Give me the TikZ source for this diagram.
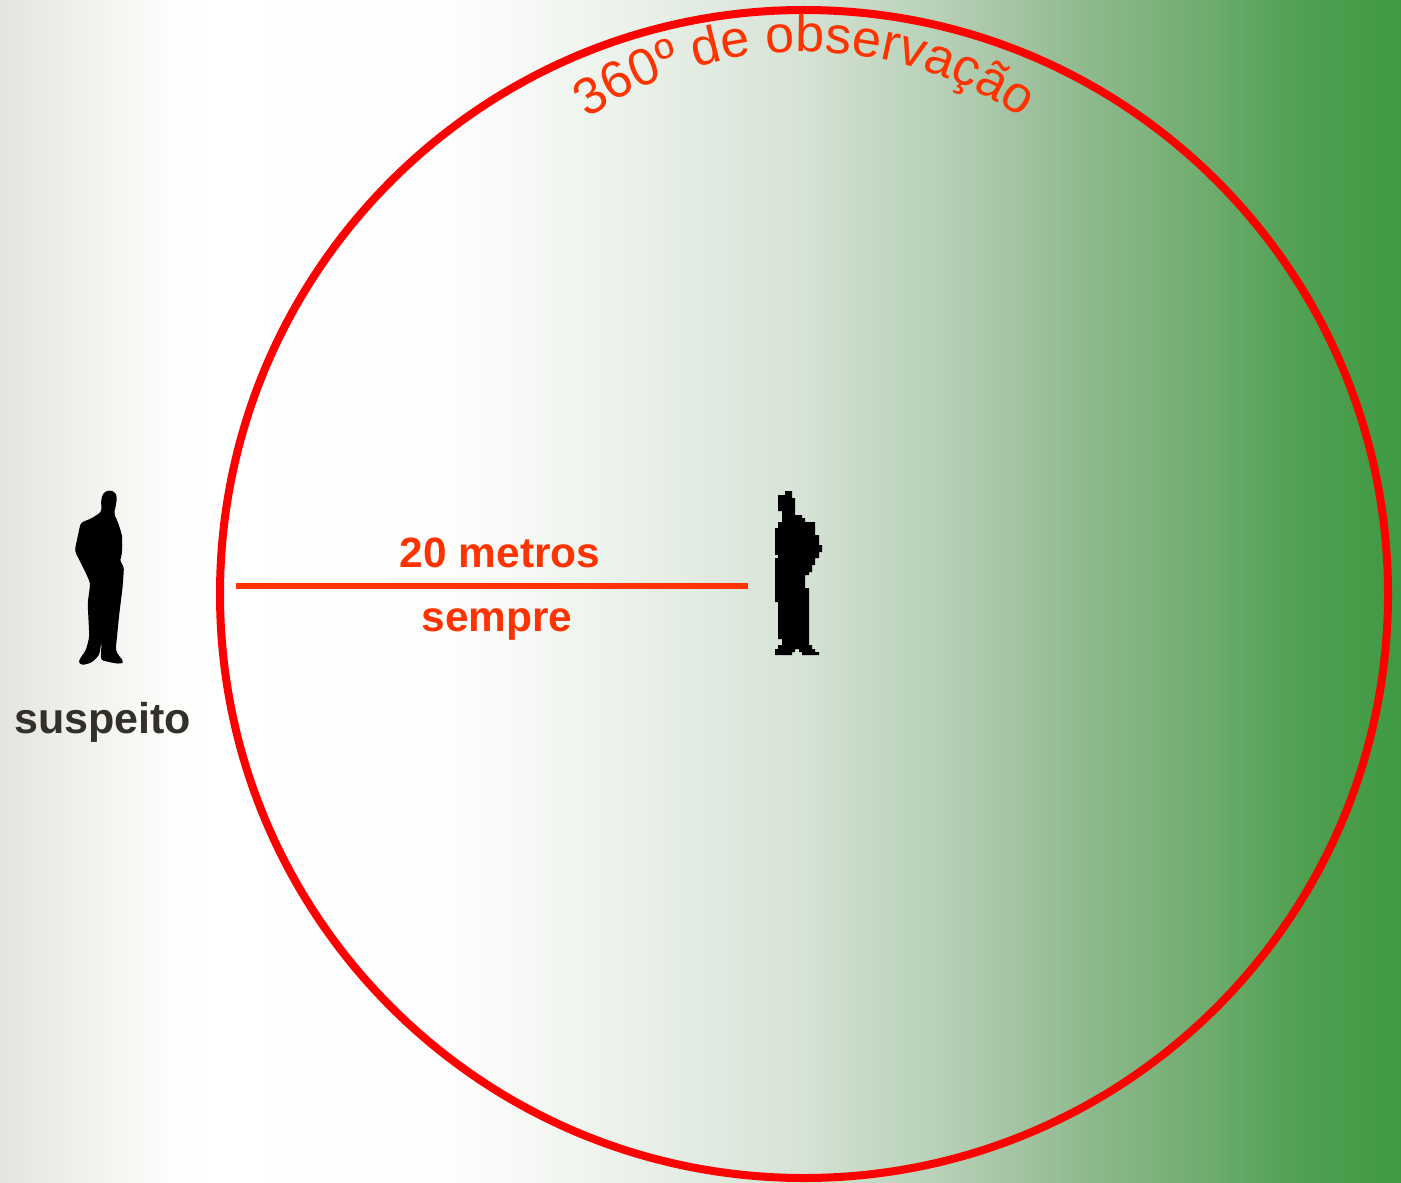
\documentclass[tikz,border=0pt]{standalone}
\usepackage{fontspec}
\setmainfont{Liberation Sans}
\usetikzlibrary{decorations.text}
\definecolor{ringred}{RGB}{255,0,0}
\definecolor{labelred}{RGB}{255,51,0}
\definecolor{darktext}{RGB}{51,48,42}
\definecolor{bga}{HTML}{E4E5E0}
\definecolor{bgb}{HTML}{F3F3F0}
\definecolor{bgc}{HTML}{FDFDFC}
\definecolor{bgd}{HTML}{FFFFFF}
\definecolor{bge}{HTML}{FDFDFD}
\definecolor{bgf}{HTML}{F7F9F6}
\definecolor{bgg}{HTML}{EBF2EB}
\definecolor{bgh}{HTML}{E2EBE2}
\definecolor{bgi}{HTML}{D6E3D6}
\definecolor{bgj}{HTML}{C3D8C2}
\definecolor{bgk}{HTML}{B8D1B8}
\definecolor{bgl}{HTML}{A8C6A7}
\definecolor{bgm}{HTML}{8AB88A}
\definecolor{bgn}{HTML}{70AD70}
\definecolor{bgo}{HTML}{50A052}
\definecolor{bgp}{HTML}{3F9A43}
\pgfdeclarehorizontalshading{bgshade}{100bp}{
 color(0bp)=(bga);
 color(25bp)=(bga);
 color(28.57bp)=(bgb);
 color(31.07bp)=(bgc);
 color(32.5bp)=(bgd);
 color(41.06bp)=(bge);
 color(43.56bp)=(bgf);
 color(47.13bp)=(bgg);
 color(49.98bp)=(bgh);
 color(53.55bp)=(bgi);
 color(56.41bp)=(bgj);
 color(58.33bp)=(bgk);
 color(60.69bp)=(bgl);
 color(64.26bp)=(bgm);
 color(67.83bp)=(bgn);
 color(71.4bp)=(bgo);
 color(75bp)=(bgp);
 color(100bp)=(bgp)}
\tikzset{
 ring/.style={draw=ringred,line width=4pt},
 measure/.style={draw=labelred,line width=3.2pt},
 boldlabel/.style={font=\fontsize{21.2}{24}\selectfont\bfseries,text=labelred,inner sep=0pt,anchor=base},
 namelabel/.style={font=\fontsize{21.5}{24}\selectfont\bfseries,text=darktext,inner sep=0pt,anchor=base},
 figure/.style={fill=black,draw=none}
}
\begin{document}
\begin{tikzpicture}[x=0.5pt,y=-0.5pt]
\useasboundingbox (0,0) rectangle (1401,1182);
\shade[shading=bgshade] (0,0) rectangle (1401,1182);
\node[draw=none,inner sep=0pt,minimum size=0pt] (centre) at (804,594) {};
\draw[ring] (centre) circle[radius=584];
\coordinate (lineL) at (236,586);
\coordinate (lineR) at (748,586);
\draw[measure] (lineL) -- (lineR);
\node[boldlabel] (dist) at (500,567) {20 metros};
\node[boldlabel] (always) at (497,631) {sempre};
\node[namelabel] (suspect) at (102.5,733) {suspeito};
\path[decorate,decoration={text along path,text align=center,
  text={|\fontsize{26}{26}\selectfont\color{labelred}|360º de observação}}]
  (566,134) arc[start angle=-128,end angle=-52,radius=388];
% suspect silhouette
\begin{scope}[shift={(50,480)},scale=0.33333]
\fill[figure,rounded corners=1.5pt] (178,30) -- (195,36) -- (201,50) -- (198,75) -- (192,100) -- (205,130) -- (216,165) -- (217,195) -- (215,230) -- (208,238) -- (222,262) -- (218,320) -- (208,400) -- (197,510) -- (205,525) -- (222,545) -- (212,552) -- (185,548) -- (152,540) -- (155,480) -- (148,525) -- (125,548) -- (95,556) -- (84,545) -- (108,510) -- (118,470) -- (113,370) -- (121,310) -- (108,280) -- (74,212) -- (92,128) -- (125,115) -- (155,95) -- (153,60) -- (160,38) -- cycle;
\end{scope}
% observer silhouette
\begin{scope}[shift={(750,480)},scale=0.33333]
\fill[figure] (105,33) -- (126,33) -- (126,54) -- (135,54) -- (135,105) -- (156,105) -- (156,114) -- (165,114) -- (165,126) -- (195,126) -- (195,165) -- (207,165) -- (207,195) -- (216,195) -- (216,216) -- (207,216) -- (207,234) -- (195,234) -- (195,255) -- (186,255) -- (186,276) -- (177,276) -- (177,285) -- (165,285) -- (165,324) -- (177,324) -- (177,495) -- (186,495) -- (186,507) -- (195,507) -- (195,516) -- (207,516) -- (207,525) -- (156,525) -- (156,516) -- (147,516) -- (147,507) -- (135,507) -- (135,516) -- (126,516) -- (126,525) -- (75,525) -- (75,507) -- (84,507) -- (84,495) -- (96,495) -- (96,477) -- (84,477) -- (84,366) -- (75,366) -- (75,234) -- (84,234) -- (84,225) -- (75,225) -- (75,144) -- (84,144) -- (84,126) -- (96,126) -- (96,93) -- (84,93) -- (84,45) -- (105,45) -- cycle;
\end{scope}
\end{tikzpicture}
\end{document}
